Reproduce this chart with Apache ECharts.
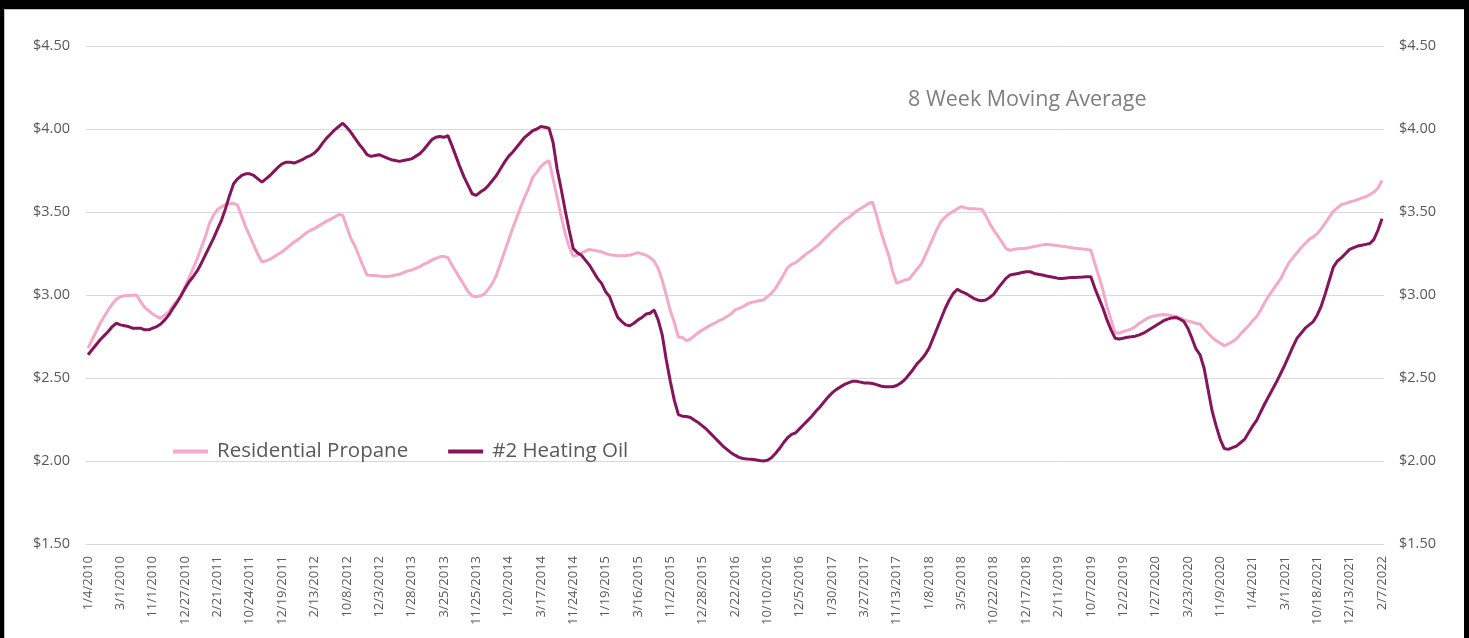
<!DOCTYPE html>
<html>
<head>
<meta charset="utf-8">
<script src="https://cdn.jsdelivr.net/npm/echarts@6/dist/echarts.min.js"></script>
<style>
  html, body { margin: 0; padding: 0; background: #000; }
  #chart {
    position: absolute; left: 4px; top: 9px; width: 1459px; height: 629px;
    background: #fff; border-top: 1px solid #bfbfbf; border-left: 1px solid #bfbfbf;
  }
</style>
</head>
<body>
<div id="chart"></div>
<script>
  // tick labels shown on the category axis (every 8th week of the heating seasons)
  var tickLabels = [
    '1/4/2010', '3/1/2010', '11/1/2010', '12/27/2010', '2/21/2011', '10/24/2011', '12/19/2011',
    '2/13/2012', '10/8/2012', '12/3/2012', '1/28/2013', '3/25/2013', '11/25/2013', '1/20/2014',
    '3/17/2014', '11/24/2014', '1/19/2015', '3/16/2015', '11/2/2015', '12/28/2015', '2/22/2016',
    '10/10/2016', '12/5/2016', '1/30/2017', '3/27/2017', '11/13/2017', '1/8/2018', '3/5/2018',
    '10/22/2018', '12/17/2018', '2/11/2019', '10/7/2019', '12/2/2019', '1/27/2020', '3/23/2020',
    '11/9/2020', '1/4/2021', '3/1/2021', '10/18/2021', '12/13/2021', '2/7/2022'
  ]

  // residential propane, $/gal, 8 week moving average (one row = 8 weeks)
  var propane = [
    2.68, 2.73, 2.78, 2.83, 2.87, 2.91, 2.945, 2.975,
    2.99, 2.995, 2.997, 2.998, 3.00, 2.96, 2.925, 2.905,
    2.885, 2.87, 2.86, 2.88, 2.90, 2.935, 2.965, 3.00,
    3.05, 3.105, 3.16, 3.22, 3.285, 3.35, 3.43, 3.48,
    3.515, 3.53, 3.545, 3.55, 3.552, 3.54, 3.475, 3.41,
    3.355, 3.30, 3.245, 3.20, 3.205, 3.215, 3.23, 3.245,
    3.26, 3.28, 3.30, 3.32, 3.335, 3.355, 3.375, 3.39,
    3.40, 3.415, 3.43, 3.445, 3.457, 3.47, 3.485, 3.48,
    3.41, 3.34, 3.295, 3.235, 3.175, 3.12, 3.118, 3.117,
    3.115, 3.112, 3.111, 3.115, 3.12, 3.125, 3.135, 3.145,
    3.15, 3.16, 3.17, 3.185, 3.195, 3.21, 3.22, 3.23,
    3.233, 3.225, 3.18, 3.14, 3.10, 3.06, 3.02, 2.995,
    2.99, 2.995, 3.005, 3.035, 3.07, 3.12, 3.19, 3.26,
    3.33, 3.40, 3.465, 3.53, 3.59, 3.645, 3.71, 3.74,
    3.775, 3.795, 3.81, 3.70, 3.59, 3.475, 3.37, 3.29,
    3.235, 3.24, 3.252, 3.265, 3.275, 3.27, 3.265, 3.26,
    3.25, 3.243, 3.24, 3.238, 3.237, 3.238, 3.24, 3.248,
    3.255, 3.248, 3.24, 3.225, 3.205, 3.16, 3.09, 3.00,
    2.905, 2.835, 2.745, 2.745, 2.725, 2.735, 2.755, 2.775,
    2.79, 2.805, 2.82, 2.83, 2.845, 2.855, 2.87, 2.885,
    2.91, 2.92, 2.93, 2.945, 2.955, 2.96, 2.965, 2.97,
    2.99, 3.01, 3.04, 3.08, 3.12, 3.165, 3.185, 3.195,
    3.215, 3.235, 3.255, 3.27, 3.29, 3.31, 3.335, 3.36,
    3.385, 3.405, 3.43, 3.45, 3.465, 3.485, 3.505, 3.52,
    3.535, 3.55, 3.56, 3.48, 3.39, 3.31, 3.24, 3.14,
    3.07, 3.08, 3.09, 3.095, 3.125, 3.155, 3.185, 3.235,
    3.29, 3.345, 3.40, 3.445, 3.47, 3.49, 3.505, 3.52,
    3.533, 3.525, 3.52, 3.52, 3.518, 3.517, 3.48, 3.43,
    3.39, 3.355, 3.32, 3.28, 3.27, 3.275, 3.278, 3.28,
    3.282, 3.287, 3.292, 3.297, 3.302, 3.306, 3.303, 3.30,
    3.297, 3.293, 3.29, 3.286, 3.282, 3.28, 3.277, 3.275,
    3.27, 3.19, 3.11, 3.03, 2.93, 2.85, 2.775, 2.77,
    2.78, 2.787, 2.795, 2.81, 2.83, 2.845, 2.86, 2.87,
    2.875, 2.88, 2.883, 2.88, 2.875, 2.872, 2.862, 2.852,
    2.843, 2.837, 2.83, 2.825, 2.795, 2.77, 2.745, 2.725,
    2.71, 2.695, 2.705, 2.72, 2.735, 2.765, 2.79, 2.815,
    2.845, 2.87, 2.91, 2.955, 2.995, 3.03, 3.065, 3.10,
    3.15, 3.195, 3.225, 3.255, 3.285, 3.31, 3.335, 3.35,
    3.37, 3.40, 3.435, 3.47, 3.505, 3.525, 3.545, 3.552,
    3.56, 3.567, 3.575, 3.585, 3.592, 3.605, 3.62, 3.645,
    3.69
  ]

  // #2 heating oil, $/gal, 8 week moving average
  var heatingOil = [
    2.64, 2.67, 2.70, 2.73, 2.755, 2.78, 2.81, 2.83,
    2.82, 2.815, 2.81, 2.80, 2.80, 2.80, 2.79, 2.79,
    2.80, 2.81, 2.825, 2.85, 2.88, 2.92, 2.955, 2.995,
    3.04, 3.08, 3.11, 3.145, 3.19, 3.24, 3.29, 3.34,
    3.395, 3.45, 3.52, 3.60, 3.67, 3.70, 3.72, 3.73,
    3.73, 3.72, 3.70, 3.68, 3.70, 3.72, 3.745, 3.77,
    3.79, 3.80, 3.80, 3.795, 3.805, 3.815, 3.83, 3.84,
    3.855, 3.88, 3.915, 3.945, 3.97, 3.995, 4.015, 4.035,
    4.01, 3.98, 3.945, 3.91, 3.88, 3.845, 3.835, 3.84,
    3.845, 3.835, 3.825, 3.815, 3.81, 3.805, 3.81, 3.815,
    3.82, 3.835, 3.85, 3.875, 3.905, 3.935, 3.95, 3.955,
    3.95, 3.96, 3.90, 3.835, 3.77, 3.71, 3.66, 3.61,
    3.60, 3.62, 3.635, 3.66, 3.69, 3.72, 3.76, 3.80,
    3.835, 3.86, 3.89, 3.92, 3.95, 3.97, 3.99, 4.00,
    4.015, 4.01, 4.005, 3.92, 3.76, 3.64, 3.51, 3.39,
    3.28, 3.255, 3.24, 3.21, 3.18, 3.14, 3.10, 3.07,
    3.02, 2.99, 2.925, 2.865, 2.84, 2.82, 2.815, 2.83,
    2.85, 2.865, 2.885, 2.89, 2.91, 2.85, 2.76, 2.61,
    2.48, 2.365, 2.28, 2.27, 2.268, 2.262, 2.245, 2.23,
    2.21, 2.19, 2.165, 2.14, 2.115, 2.09, 2.07, 2.05,
    2.035, 2.022, 2.015, 2.012, 2.01, 2.007, 2.003, 2.00,
    2.005, 2.02, 2.045, 2.075, 2.11, 2.14, 2.16, 2.17,
    2.195, 2.22, 2.245, 2.27, 2.30, 2.325, 2.355, 2.385,
    2.41, 2.43, 2.445, 2.46, 2.47, 2.48, 2.48, 2.475,
    2.47, 2.47, 2.467, 2.46, 2.452, 2.447, 2.447, 2.447,
    2.455, 2.47, 2.49, 2.52, 2.55, 2.585, 2.61, 2.64,
    2.68, 2.74, 2.80, 2.86, 2.92, 2.97, 3.01, 3.035,
    3.02, 3.01, 2.995, 2.98, 2.97, 2.965, 2.97, 2.985,
    3.005, 3.04, 3.07, 3.10, 3.12, 3.125, 3.13, 3.135,
    3.14, 3.14, 3.13, 3.125, 3.12, 3.115, 3.11, 3.105,
    3.10, 3.10, 3.103, 3.105, 3.105, 3.107, 3.108, 3.11,
    3.11, 3.04, 2.98, 2.92, 2.85, 2.79, 2.74, 2.735,
    2.74, 2.745, 2.748, 2.752, 2.76, 2.77, 2.785, 2.80,
    2.815, 2.83, 2.845, 2.855, 2.862, 2.865, 2.855, 2.84,
    2.80, 2.74, 2.675, 2.64, 2.56, 2.43, 2.30, 2.21,
    2.13, 2.075, 2.07, 2.08, 2.09, 2.11, 2.13, 2.17,
    2.21, 2.245, 2.295, 2.345, 2.39, 2.435, 2.48, 2.53,
    2.58, 2.635, 2.69, 2.74, 2.77, 2.80, 2.82, 2.84,
    2.88, 2.935, 3.01, 3.09, 3.17, 3.205, 3.225, 3.25,
    3.275, 3.285, 3.295, 3.30, 3.305, 3.31, 3.335, 3.39,
    3.46
  ]

  // fill the weeks between two ticks; weeks outside Oct-Mar are skipped
  function buildWeeks(ticks) {
    var out = []
    var fmt = function (d) { return (d.getMonth() + 1) + '/' + d.getDate() + '/' + d.getFullYear() }
    var inSeason = function (d) { return d.getMonth() <= 2 || d.getMonth() >= 9 }
    var shift = function (d, days) { return new Date(d.getFullYear(), d.getMonth(), d.getDate() + days) }
    for (var j = 0; j < ticks.length - 1; j++) {
      var a = new Date(ticks[j]), b = new Date(ticks[j + 1])
      out.push(ticks[j])
      var f = 0
      while (f < 7 && inSeason(shift(a, (f + 1) * 7))) f++
      for (var k = 1; k <= 7; k++) {
        out.push(fmt(k <= f ? shift(a, k * 7) : shift(b, -(8 - k) * 7)))
      }
    }
    out.push(ticks[ticks.length - 1])
    return out
  }

  var weeks = buildWeeks(tickLabels)
  var textColor = '#595959'
  var font = '"Open Sans", sans-serif'
  var money = function (v) { return '$' + v.toFixed(2) }

  var chart = echarts.init(document.getElementById('chart'))
  chart.setOption({
    animation: false,
    title: {
      text: '8 Week Moving Average',
      left: 898,
      top: 74,
      textStyle: { color: '#7f7f7f', fontSize: 21.5, fontWeight: 'normal', fontFamily: font }
    },
    legend: {
      left: 163,
      top: 426,
      icon: 'rect',
      itemWidth: 35,
      itemHeight: 4,
      itemGap: 40,
      textStyle: { color: textColor, fontSize: 20.5, fontFamily: font, padding: [0, 0, 0, 4] },
      data: ['Residential Propane', '#2 Heating Oil']
    },
    grid: { left: 81, right: 80, top: 36, bottom: 95 },
    xAxis: {
      type: 'category',
      boundaryGap: true,
      data: weeks,
      axisLine: { lineStyle: { color: '#d9d9d9' } },
      axisTick: { show: false },
      axisLabel: {
        interval: 7,
        rotate: 90,
        margin: 12,
        color: textColor,
        fontSize: 13,
        fontFamily: font
      }
    },
    yAxis: [
      {
        type: 'value',
        min: 1.5,
        max: 4.5,
        interval: 0.5,
        position: 'left',
        axisLine: { show: false },
        axisTick: { show: false },
        splitLine: { lineStyle: { color: '#d9d9d9' } },
        axisLabel: { formatter: money, margin: 16, color: textColor, fontSize: 14.5, fontFamily: font }
      },
      {
        type: 'value',
        min: 1.5,
        max: 4.5,
        interval: 0.5,
        position: 'right',
        axisLine: { show: false },
        axisTick: { show: false },
        splitLine: { show: false },
        axisLabel: { formatter: money, margin: 15, color: textColor, fontSize: 14.5, fontFamily: font }
      }
    ],
    series: [
      {
        name: 'Residential Propane',
        type: 'line',
        data: propane,
        symbol: 'none',
        color: '#f4a9c9',
        lineStyle: { width: 3 }
      },
      {
        name: '#2 Heating Oil',
        type: 'line',
        data: heatingOil,
        symbol: 'none',
        color: '#86145a',
        lineStyle: { width: 3 }
      }
    ]
  })
</script>
</body>
</html>
